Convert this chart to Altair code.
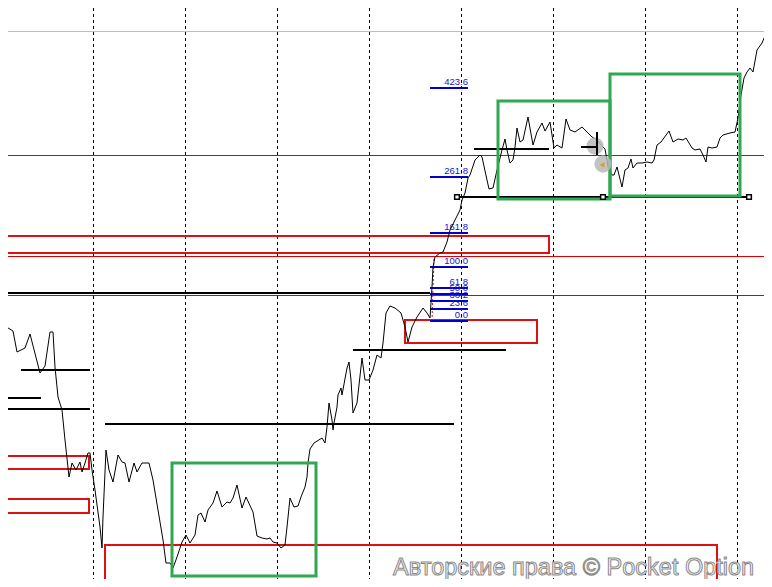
import altair as alt
import pandas as pd

# ---- data (chart units: bar position x, price level y; y grows downward) ----
grid_x = [1, 93, 185, 277, 369, 461, 553, 645, 737]
gray_level = [31]
red_levels = [155, 256, 295]

red_x = [-5, 405, -5, -5, 105]
red_x2 = [549, 537, 89, 89, 717]
red_y = [236, 320, 456, 499, 545]
red_y2 = [253, 343, 469, 513, 584]

green_x = [172, 498, 610]
green_x2 = [316, 610, 740]
green_y = [463, 101, 74]
green_y2 = [576, 199, 196]

seg_x = [-5, 21, -5, -5, 105, 353, 474, 457]
seg_x2 = [430, 90, 41, 90, 454, 506, 549, 749]
seg_y = [293, 370, 398, 409, 424, 350, 149, 197]

anchor_x = [457, 603, 749]
anchor_y = [197, 197, 197]

fib_labels = ["423.6", "261.8", "161.8", "100.0", "61.8", "50.0", "38.2", "23.6", "0.0"]
fib_y = [88, 177, 233, 267, 288, 294, 301, 309, 321]

price_x = [0, 13, 17, 25, 30, 40, 45, 50, 53, 55, 58, 62, 65, 69, 72, 76, 80, 82, 85, 88,
           90, 92, 95, 100, 102, 103, 106, 109, 113, 118, 122, 125, 129, 134, 137, 142, 149,
           153, 158, 163, 166, 170, 173, 177, 182, 186, 190, 195, 198, 201, 205, 208, 213,
           217, 222, 227, 230, 233, 237, 242, 246, 253, 257, 262, 267, 270, 273, 277, 281,
           285, 287, 290, 294, 298, 301, 305, 307, 308, 310, 314, 322, 325, 327, 329, 332,
           333, 334, 337, 338, 341, 342, 347, 349, 351, 353, 357, 362, 365, 369, 373, 377,
           381, 383, 386, 390, 395, 401, 405, 408, 412, 417, 423, 427, 430, 432, 433, 435,
           440, 443, 447, 450, 455, 460, 462, 465, 468, 470, 475, 480, 482, 487, 489, 493,
           497, 502, 505, 507, 510, 513, 515, 517, 520, 523, 528, 533, 537, 542, 545, 550,
           554, 557, 562, 566, 570, 575, 582, 587, 592, 597, 602, 605, 607, 608, 612, 614,
           617, 622, 625, 628, 631, 633, 637, 642, 647, 652, 654, 657, 661, 669, 673, 678,
           683, 686, 692, 695, 700, 703, 706, 708, 712, 717, 720, 723, 730, 735, 738, 741,
           744, 747, 750, 753, 757, 762, 765, 770, 772]
price_y = [323, 331, 352, 348, 334, 373, 366, 332, 332, 367, 397, 410, 440, 477, 463, 470,
           462, 472, 463, 453, 453, 470, 490, 527, 548, 517, 450, 470, 482, 455, 462, 463,
           482, 463, 472, 463, 463, 480, 510, 540, 563, 563, 568, 557, 542, 535, 543, 535,
           515, 513, 522, 510, 503, 491, 507, 502, 503, 498, 485, 508, 497, 512, 536, 538,
           539, 538, 542, 543, 548, 545, 527, 498, 507, 506, 497, 487, 477, 463, 449, 443,
           438, 443, 427, 403, 420, 430, 423, 407, 395, 388, 395, 368, 362, 380, 413, 403,
           358, 380, 380, 370, 355, 358, 343, 313, 306, 308, 313, 327, 342, 327, 317, 308,
           313, 318, 287, 267, 257, 253, 252, 242, 230, 220, 210, 200, 193, 178, 175, 160,
           155, 157, 180, 189, 188, 170, 150, 139, 150, 163, 160, 147, 128, 142, 140, 117,
           145, 132, 123, 131, 122, 148, 145, 148, 119, 130, 132, 127, 132, 137, 140, 146,
           149, 160, 167, 175, 175, 167, 187, 170, 168, 159, 168, 163, 163, 162, 163, 160,
           145, 142, 131, 142, 139, 140, 138, 148, 150, 149, 155, 162, 147, 148, 147, 138,
           135, 133, 132, 118, 95, 78, 72, 68, 72, 50, 43, 36, 32, 31]

cross_x = [581, 597]
cross_x2 = [597, 597]
cross_y = [147, 132]
cross_y2 = [147, 155]

bubble_x = [595, 603]
bubble_y = [146, 164]

watermark = "Авторские права © Pocket Option"

# ---- scales (shared) ----
xs = alt.Scale(domain=[8, 764], nice=False, zero=False)
ys = alt.Scale(domain=[8, 579], nice=False, zero=False, reverse=True)


def X(f):
    return alt.X(f, type="quantitative", scale=xs, axis=None)


def Y(f):
    return alt.Y(f, type="quantitative", scale=ys, axis=None)


vlines = alt.Chart(pd.DataFrame({"x": grid_x})).mark_rule(
    color="black", strokeWidth=1, strokeDash=[3, 3], xOffset=0.5).encode(x=X("x"))

gray = alt.Chart(pd.DataFrame({"y": gray_level})).mark_rule(
    color="#bdbdbd", strokeWidth=1, yOffset=0.5).encode(y=Y("y"))

redl = alt.Chart(pd.DataFrame({"y": red_levels})).mark_rule(
    color="#e00000", strokeWidth=1, yOffset=0.5).encode(y=Y("y"))

red_df = pd.DataFrame({"x": red_x, "x2": red_x2, "y": red_y, "y2": red_y2})
redr = alt.Chart(red_df).mark_rect(
    fill="transparent", stroke="#e01010", strokeWidth=2, clip=True).encode(
    x=X("x"), x2="x2", y=Y("y"), y2="y2")

seg_df = pd.DataFrame({"x": seg_x, "x2": seg_x2, "y": seg_y})
segs = alt.Chart(seg_df).mark_rule(color="black", strokeWidth=2, clip=True).encode(
    x=X("x"), x2="x2", y=Y("y"))

fib_df = pd.DataFrame({"y": fib_y, "label": fib_labels, "x": [430] * 9, "x2": [468] * 9})
fibl = alt.Chart(fib_df).mark_rule(color="#0000cd", strokeWidth=2).encode(
    x=X("x"), x2="x2", y=Y("y"))
fibt = alt.Chart(fib_df).mark_text(
    align="right", baseline="bottom", dy=-1, color="#1515c8",
    font="Liberation Sans", fontSize=9.5).encode(
    x=X("x2"), y=Y("y"), text="label:N")

trend = alt.Chart(pd.DataFrame({"x": [432], "x2": [434], "y": [321], "y2": [258]})).mark_rule(
    color="#dd1111", strokeWidth=1, strokeDash=[2, 2]).encode(
    x=X("x"), x2="x2", y=Y("y"), y2="y2")

price_df = pd.DataFrame({"x": price_x, "y": price_y, "i": list(range(len(price_x)))})
price = alt.Chart(price_df).mark_line(color="black", strokeWidth=1, clip=True).encode(
    x=X("x"), y=Y("y"), order="i:Q")

green_df = pd.DataFrame({"x": green_x, "x2": green_x2, "y": green_y, "y2": green_y2})
greenr = alt.Chart(green_df).mark_rect(
    fill="transparent", stroke="#2fa84f", strokeWidth=3).encode(
    x=X("x"), x2="x2", y=Y("y"), y2="y2")

anchors = alt.Chart(pd.DataFrame({"x": anchor_x, "y": anchor_y})).mark_point(
    shape="square", filled=True, fill="white", stroke="black", strokeWidth=1.5,
    size=22, opacity=1).encode(x=X("x"), y=Y("y"))

bubbles = alt.Chart(pd.DataFrame({"x": bubble_x, "y": bubble_y})).mark_point(
    shape="circle", filled=True, color="#b8b8b8", opacity=0.85, size=300).encode(
    x=X("x"), y=Y("y"))

tri = alt.Chart(pd.DataFrame({"x": [602], "y": [165]})).mark_point(
    shape="triangle-left", filled=True, color="#d8a020", opacity=1, size=30).encode(
    x=X("x"), y=Y("y"))

cross = alt.Chart(pd.DataFrame({"x": cross_x, "x2": cross_x2, "y": cross_y, "y2": cross_y2})).mark_rule(
    color="black", strokeWidth=2).encode(x=X("x"), x2="x2", y=Y("y"), y2="y2")

wm = alt.Chart(pd.DataFrame({"x": [393], "y": [579], "t": [watermark]})).mark_text(
    align="left", baseline="alphabetic", dy=-4, font="Liberation Sans", fontSize=23.5,
    fill="#fafafa", stroke="#8a8a8a", strokeWidth=1).encode(
    x=X("x"), y=Y("y"), text="t:N")

chart = alt.layer(
    vlines, gray, redl, redr, segs, trend, fibl, fibt, price, greenr,
    anchors, bubbles, tri, cross, wm
).properties(
    width=756, height=571, padding=0,
    autosize=alt.AutoSizeParams(type="none"),
    background="white",
).configure_view(stroke=None)

chart.save("out.html", embed_options={"renderer": "svg", "actions": False})
